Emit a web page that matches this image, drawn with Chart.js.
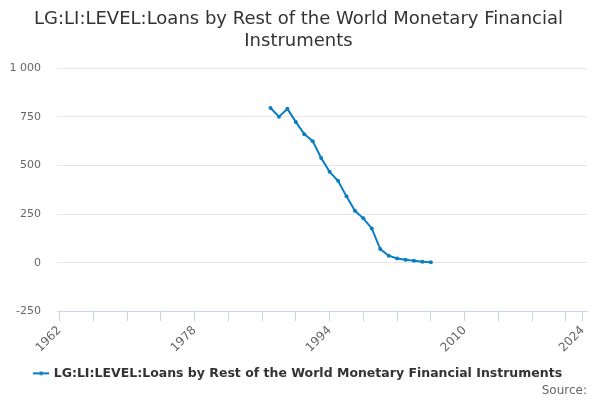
<!DOCTYPE html>
<html>
<head>
<meta charset="utf-8">
<script src="https://cdn.jsdelivr.net/npm/chart.js@4.4.1/dist/chart.umd.min.js"></script>
<style>
  html, body { margin: 0; padding: 0; background: #fff; }
  #wrap { width: 600px; height: 400px; }
</style>
</head>
<body>
<div id="wrap"><canvas id="lineChart"></canvas></div>
<script>
// data
const years = [1987, 1988, 1989, 1990, 1991, 1992, 1993, 1994, 1995, 1996,
               1997, 1998, 1999, 2000, 2001, 2002, 2003, 2004, 2005, 2006];
const loans = [795, 751, 791, 724, 661, 625, 538, 467, 421, 341,
               267, 228, 176, 70, 36, 22, 15, 10, 5, 2];
const xTicks = [1962, 1966, 1970, 1974, 1978, 1982, 1986, 1990, 1994, 1998,
                2002, 2006, 2010, 2014, 2018, 2022, 2024];
const xLabels = [1962, 1978, 1994, 2010, 2024];
const yTicks = [-250, 0, 250, 500, 750, 1000];

const seriesName = 'LG:LI:LEVEL:Loans by Rest of the World Monetary Financial Instruments';
const lineColor = '#0b7dc2';
const font = 'DejaVu Sans';

// small legend symbol: line with a dot
const sym = document.createElement('canvas');
sym.width = 16; sym.height = 8;
const sctx = sym.getContext('2d');
sctx.strokeStyle = lineColor; sctx.lineWidth = 2;
sctx.beginPath(); sctx.moveTo(0, 4); sctx.lineTo(16, 4); sctx.stroke();
sctx.fillStyle = lineColor;
sctx.beginPath(); sctx.arc(8, 4, 2, 0, Math.PI * 2); sctx.fill();

const el = document.getElementById('lineChart');
new Chart(el, {
    type: 'line',
    data: {
        datasets: [{
            label: seriesName,
            data: years.map((y, i) => ({ x: y, y: loans[i] })),
            borderColor: lineColor,
            backgroundColor: lineColor,
            borderWidth: 2,
            pointRadius: 2,
            pointBorderWidth: 0,
            pointHoverRadius: 3,
            tension: 0
        }]
    },
    options: {
        responsive: true,
        maintainAspectRatio: false,
        animation: false,
        layout: { padding: { left: 10, right: 13, top: 0, bottom: 2 } },
        plugins: {
            title: {
                display: true,
                text: ['LG:LI:LEVEL:Loans by Rest of the World Monetary Financial', 'Instruments'],
                color: '#333333',
                font: { family: font, size: 18, weight: 'normal', lineHeight: 1.2 },
                padding: { top: 9, bottom: 16 }
            },
            subtitle: {
                display: true,
                position: 'bottom',
                align: 'end',
                text: 'Source:',
                color: '#666666',
                font: { family: font, size: 12 },
                padding: { top: -6, bottom: 0 }
            },
            legend: {
                display: true,
                position: 'bottom',
                labels: {
                    usePointStyle: true,
                    pointStyle: sym,
                    color: '#333333',
                    font: { family: font, size: 12.5, weight: 'bold' },
                    padding: 4
                }
            },
            tooltip: { enabled: false }
        },
        scales: {
            x: {
                type: 'linear',
                min: 1961.7,
                max: 2024.5,
                afterBuildTicks: (axis) => { axis.ticks = xTicks.map(v => ({ value: v })); },
                afterFit: (axis) => {
                    axis.paddingLeft = 0;
                    axis.paddingRight = 0;
                    axis.height += 6;
                },
                grid: {
                    drawOnChartArea: false,
                    drawTicks: true,
                    tickLength: 10,
                    color: '#ccd6eb'
                },
                border: { color: '#ccd6eb' },
                ticks: {
                    autoSkip: false,
                    minRotation: 45,
                    maxRotation: 45,
                    color: '#666666',
                    font: { family: font, size: 12 },
                    padding: 2,
                    callback: (v) => xLabels.includes(v) ? String(v) : ''
                }
            },
            y: {
                type: 'linear',
                min: -250,
                max: 1000,
                afterBuildTicks: (axis) => { axis.ticks = yTicks.map(v => ({ value: v })); },
                afterFit: (axis) => { axis.width = 47; },
                grid: { color: '#e6e6e6', drawTicks: false },
                border: { display: false },
                ticks: {
                    color: '#666666',
                    font: { family: font, size: 11 },
                    padding: 16,
                    callback: (v) => String(v).replace(/\B(?=(\d{3})+(?!\d))/g, ' ')
                }
            }
        }
    }
});
</script>
</body>
</html>
